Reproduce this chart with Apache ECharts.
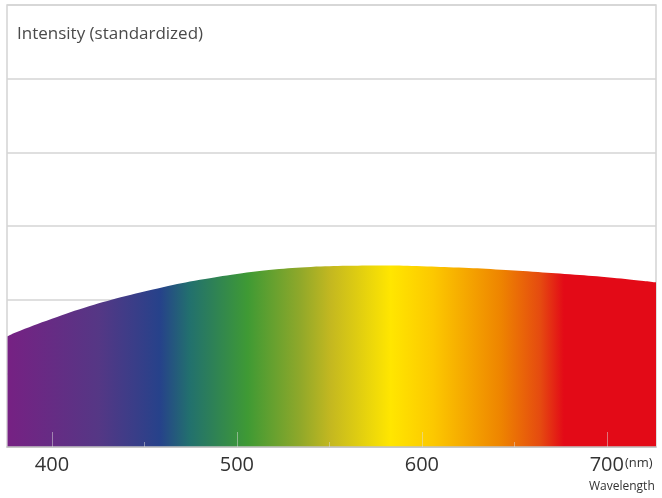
<!DOCTYPE html>
<html>
<head>
<meta charset="utf-8">
<script src="https://cdn.jsdelivr.net/npm/echarts@6/dist/echarts.min.js"></script>
<style>html,body{margin:0;padding:0;background:#fff}#c{width:662px;height:498px}</style>
</head>
<body>
<div id="c"></div>
<script>
// Wavelength (nm) and standardized intensity
const wavelengths = [376, 380, 400, 420, 440, 460, 480, 500, 520, 540, 560, 580, 600, 620, 640, 660, 680, 700, 720, 727];
const intensity   = [1.50, 1.55, 1.74, 1.91, 2.05, 2.17, 2.27, 2.35, 2.41, 2.445, 2.46, 2.465, 2.455, 2.435, 2.41, 2.38, 2.345, 2.305, 2.255, 2.235];
const majorTicks = [400, 500, 600, 700];
const minorTicks = [450, 550, 650];
const titleText = 'Intensity (standardized)';
const unitText = '(nm)';
const axisName = 'Wavelength';

const data = wavelengths.map((w, i) => [w, intensity[i]]);
const chart = echarts.init(document.getElementById('c'));
const font = '"Open Sans", "Noto Sans", sans-serif';

const spectrum = new echarts.graphic.LinearGradient(0, 0, 1, 0, [
  { offset: 0.000, color: '#762183' },
  { offset: 0.140, color: '#553785' },
  { offset: 0.235, color: '#26428a' },
  { offset: 0.280, color: '#22706e' },
  { offset: 0.370, color: '#3f9a34' },
  { offset: 0.451, color: '#90a82a' },
  { offset: 0.498, color: '#c4b820' },
  { offset: 0.590, color: '#ffe600' },
  { offset: 0.656, color: '#fcc800' },
  { offset: 0.760, color: '#ee8400' },
  { offset: 0.821, color: '#e54a10' },
  { offset: 0.857, color: '#e30a17' },
  { offset: 1.000, color: '#e30a17' }
]);

chart.setOption({
  animation: false,
  backgroundColor: '#fff',
  title: {
    text: titleText, left: 12, top: 21,
    textStyle: { fontFamily: font, fontSize: 17, fontWeight: 'normal', color: '#4a4a4a' }
  },
  grid: { left: 7, right: 6, top: 5, bottom: 51, show: true, borderColor: '#d4d4d4', borderWidth: 1.5 },
  xAxis: [{
    type: 'value', min: 375.7, max: 726.6, z: 5,
    axisLine: { show: true, lineStyle: { color: '#c4c4c4', width: 1.5 } },
    splitLine: { show: false },
    axisTick: { show: true, inside: true, length: 15, customValues: majorTicks, lineStyle: { color: 'rgba(220,220,220,0.5)', width: 1 } },
    axisLabel: { customValues: majorTicks, margin: 8, fontFamily: font, fontSize: 20, color: '#333' }
  }, {
    type: 'value', min: 375.7, max: 726.6, z: 5, position: 'bottom',
    axisLine: { show: false },
    splitLine: { show: false },
    axisTick: { show: true, inside: true, length: 5, customValues: minorTicks, lineStyle: { color: 'rgba(220,220,220,0.5)', width: 1 } },
    axisLabel: { show: false }
  }],
  yAxis: {
    type: 'value', min: 0, max: 6, interval: 1,
    axisLine: { show: false }, axisTick: { show: false }, axisLabel: { show: false },
    splitLine: { lineStyle: { color: '#d4d4d4', width: 1.5 } }
  },
  graphic: [
    { type: 'text', left: 625, top: 457, style: { text: unitText, font: '13px ' + font, fill: '#333' } },
    { type: 'text', left: 589, top: 481, style: { text: axisName, font: '12px ' + font, fill: '#333' } }
  ],
  series: [{
    type: 'line', data: data, smooth: 0.4, symbol: 'none',
    lineStyle: { width: 0 },
    areaStyle: { color: spectrum, opacity: 1 }
  }]
});
</script>
</body>
</html>
